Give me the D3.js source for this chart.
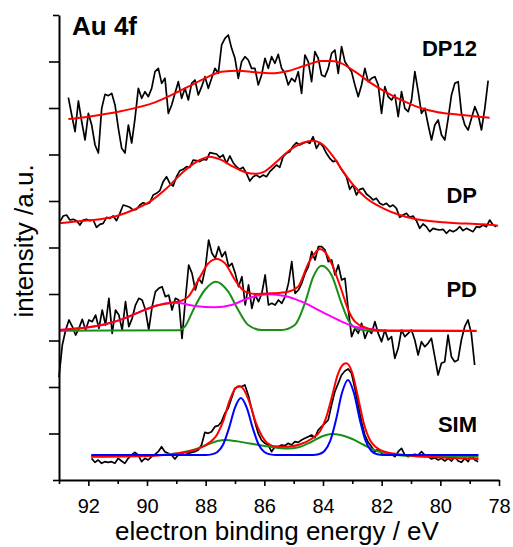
<!DOCTYPE html>
<html>
<head>
<meta charset="utf-8">
<script src="https://cdn.jsdelivr.net/npm/d3@7"></script>
<style>
  body { margin: 0; background: #fff; }
  svg { display: block; font-family: "Liberation Sans", Arial, sans-serif; }
</style>
</head>
<body>
<div id="chart"></div>
<script>
// measured spectra: first/last binding energy (eV), points evenly spaced between them
const dp12Range = [92.68, 78.37];
const dp12 = [82.22,78.49,74.91,81.51,77.06,73.12,78.85,76.34,72.04,70.32,
  79.93,82.94,82.65,83.15,80.65,75.63,71.33,70.32,76.34,72.47,
  77.78,84.23,82.08,83.51,82.44,84.23,87.81,88.53,85.30,86.38,
  78.85,80.65,83.15,85.66,82.08,84.23,81.72,85.30,86.02,82.80,
  84.59,86.74,84.23,86.38,88.53,87.46,93.55,94.98,95.70,92.83,
  90.68,86.38,89.96,91.04,90.32,88.53,88.53,84.95,87.10,90.68,
  88.53,91.04,89.61,91.54,88.53,87.46,84.95,86.38,85.66,87.81,
  83.15,91.40,89.96,85.66,92.11,90.68,87.10,86.74,88.53,91.76,
  92.47,87.46,93.19,89.96,88.89,87.81,84.95,82.44,84.95,88.53,
  85.66,86.38,86.74,84.95,78.85,84.59,82.44,81.72,82.80,78.14,
  83.51,79.93,79.21,81.72,87.81,83.51,78.85,79.93,76.34,73.12,
  76.34,77.42,74.19,73.12,77.78,82.80,85.30,85.66,78.85,76.34,
  75.27,77.78,80.29,78.49,75.27,79.93,85.88];

const dpRange = [92.97, 78.09];
const dp = [55.56,56.77,56.99,55.91,56.06,55.77,54.84,55.91,56.06,55.77,
  55.91,54.34,54.98,55.20,56.49,56.27,56.77,55.77,57.35,59.14,
  58.92,58.64,58.06,58.21,59.14,59.64,59.36,59.64,61.29,61.65,
  62.22,64.16,65.23,63.80,63.23,65.23,66.52,66.81,67.38,67.24,
  68.82,68.67,68.46,68.96,68.82,70.39,70.25,70.11,69.39,69.89,
  68.10,69.68,68.24,67.38,66.81,67.24,65.95,64.30,65.23,65.59,
  65.09,65.59,65.23,66.31,67.03,67.74,67.24,69.53,70.25,70.61,
  71.83,72.54,72.04,72.40,72.76,72.40,73.84,71.33,72.54,71.68,
  70.25,69.18,68.46,68.67,67.38,66.31,65.23,62.51,63.44,61.29,
  62.51,62.72,61.51,60.93,60.22,60.57,59.50,59.14,59.50,58.78,
  59.14,58.42,56.49,56.99,57.35,56.49,56.77,55.77,54.12,55.05,
  54.48,53.41,54.12,53.91,53.76,53.91,53.05,53.76,53.41,53.76,
  54.48,53.62,54.12,53.76,53.41,54.48,54.34,54.84,54.48,55.91,
  54.84,54.48];

const pdRange = [93.0, 78.83];
const pd = [22.15,29.03,32.26,34.41,32.97,31.18,32.62,34.55,32.26,34.41,
  34.05,35.48,32.62,36.56,33.33,39.07,31.54,36.56,35.48,32.26,
  38.35,32.97,34.77,37.63,39.07,38.71,36.56,32.26,37.28,40.50,
  41.22,41.58,39.43,39.78,36.56,39.07,38.71,30.47,38.71,46.24,
  44.44,40.86,43.37,42.29,45.52,51.61,48.75,47.67,50.18,48.03,
  49.10,45.88,46.59,44.44,41.58,43.73,37.63,41.94,36.92,39.78,
  38.35,40.14,44.09,37.63,37.99,37.63,38.71,37.99,39.43,42.29,
  46.95,40.14,40.86,42.29,44.44,45.88,49.10,47.31,50.18,50.18,
  49.46,46.95,47.31,44.09,46.24,43.01,43.37,36.56,30.82,32.62,
  31.54,33.69,30.47,32.26,31.54,34.05,31.54,29.75,32.26,30.11,
  30.82,26.16,28.32,32.26,30.82,31.54,32.26,30.11,26.88,29.75,
  28.67,29.39,30.47,26.52,22.58,25.09,25.45,31.18,26.52,25.45,
  25.81,30.11,32.97,34.41,31.54,24.73];

const simRange = [91.89, 78.71];
const sim = [4.66,3.80,4.30,3.58,3.94,3.80,3.94,3.58,4.66,4.09,
  3.58,4.66,5.38,5.95,5.38,3.94,4.66,4.30,5.02,5.52,
  6.09,7.17,6.09,5.73,5.38,4.52,5.38,5.73,5.38,5.73,
  5.95,6.09,6.45,7.53,10.25,10.04,10.39,11.47,11.68,12.54,
  14.34,15.41,17.56,19.71,20.07,20.07,20.43,18.28,15.41,12.54,
  10.04,8.60,7.89,7.53,6.09,7.17,7.17,7.53,7.38,7.89,
  7.53,8.24,8.10,8.60,8.96,9.32,9.68,9.10,10.75,11.47,
  12.19,12.90,16.13,19.00,20.79,22.58,23.44,23.87,22.94,19.71,
  16.13,12.54,9.68,8.10,7.17,6.09,6.67,5.73,6.09,5.38,
  5.52,5.02,6.09,6.81,5.38,5.02,5.38,5.52,5.38,6.09,
  5.38,5.02,4.52,4.80,4.30,4.66,4.09,4.66,4.09,5.02,
  4.09,3.80,4.66,3.94,5.38,4.30,3.94];

// fitted envelopes and components, sampled by eye
const dp12FitE = [92.68,92.0,90.86,89.73,88.59,88.03,87.46,86.89,86.32,85.75,85.19,84.62,84.05,83.71,83.37,82.91,82.35,81.78,81.21,80.64,80.08,79.51,78.94,78.32];
const dp12Fit  = [77.63,78.14,79.35,81.22,84.59,86.38,87.81,88.03,87.67,87.46,87.96,89.10,90.11,90.11,89.61,87.81,85.30,83.15,81.36,79.93,79.07,78.64,78.28,77.92];

const dpFitE = [92.99,92.17,91.60,91.03,90.47,89.90,89.33,88.76,88.20,87.86,87.51,87.06,86.61,86.3,86.04,85.58,85.13,84.68,84.34,83.99,83.65,83.31,82.97,82.52,81.95,81.38,80.81,79.68,78.54,78.03];
const dpFit  = [55.20,55.77,56.06,56.77,58.06,59.86,62.72,66.31,68.82,69.53,68.96,67.38,66.09,65.85,66.2,68.46,70.97,72.54,72.97,72.04,69.53,66.31,63.44,60.57,58.42,56.99,56.06,55.34,54.98,54.70];

const pdFitE = [92.97,92.0,91.43,90.86,90.30,89.73,89.16,88.82,88.59,88.25,87.91,87.63,87.34,87.0,86.66,86.32,85.75,85.19,84.85,84.50,84.28,84.11,83.94,83.71,83.37,83.14,82.91,82.57,82.23,81.78,78.77];
const pdFit  = [32.26,32.83,33.48,34.55,35.99,37.42,38.14,38.57,39.43,43.01,46.59,47.53,46.59,43.01,40.50,40.0,40.14,40.50,41.58,46.59,48.75,49.68,49.10,46.59,40.86,36.56,34.05,32.83,32.26,32.11,32.04];
const pdMetalE = [92.97,88.9,88.71,88.37,88.03,87.65,87.23,86.89,86.55,86.09,85.41,84.96,84.62,84.33,84.05,83.71,83.37,83.14,82.80,82.35,78.77];
const pdMetal  = [32.11,32.2,32.97,37.28,40.86,42.65,40.50,36.56,33.33,32.26,32.26,33.33,37.99,43.73,46.09,44.09,37.99,34.41,32.40,32.11,32.11];
const pdBroadE = [92.97,92.0,91.43,90.86,90.30,89.73,89.16,88.82,88.37,87.68,87.12,86.55,85.87,85.30,84.73,84.05,83.48,82.91,82.35,81.78,78.77];
const pdBroad  = [32.26,32.83,33.48,34.55,35.99,37.42,38.14,37.99,37.42,37.13,37.63,39.07,39.93,39.57,38.35,36.20,34.41,32.97,32.40,32.11,32.04];

const simFitE = [91.9,90.0,89.0,88.6,88.0,87.6,87.4,87.2,87.0,86.85,86.7,86.5,86.3,86.1,85.9,85.6,85.2,84.8,84.4,84.1,83.9,83.7,83.5,83.3,83.2,83.0,82.8,82.6,82.4,82.2,81.9,81.2,80.0,78.7];
const simFit  = [5.01,5.16,5.70,6.09,7.53,9.89,12.7,16.8,19.6,20.2,19.4,16.6,12.5,9.68,7.96,7.20,7.16,7.63,8.82,10.5,13.3,17.8,22.6,24.9,25.1,23.0,17.6,12.0,8.60,7.10,6.09,5.38,4.84,4.52];
const simMetalE = [91.9,88.0,87.8,87.6,87.4,87.2,87.0,86.8,86.6,86.4,86.2,86.0,85.8,85.6,84.6,84.35,84.15,83.95,83.75,83.55,83.35,83.15,82.95,82.75,82.55,82.35,82.15,81.95,78.7];
const simMetal  = [5.38,5.38,5.51,6.02,7.70,11.27,15.57,17.63,15.57,11.27,7.70,6.02,5.51,5.38,5.38,5.40,5.54,6.24,8.45,13.12,18.80,21.51,18.80,13.12,8.45,6.24,5.54,5.38,5.38];
const simBroadE = [91.9,90.5,89.5,89.0,88.5,88.0,87.6,87.3,87.0,86.5,86.0,85.5,85.2,84.8,84.4,84.0,83.7,83.4,83.0,82.6,82.2,81.8,81.2,80.0,78.7];
const simBroad  = [5.10,5.16,5.38,5.70,6.34,7.42,8.39,8.60,8.39,7.85,7.31,6.88,6.77,7.10,8.17,9.46,9.89,9.68,8.82,7.53,6.34,5.70,5.23,5.05,4.99];

const sampleNames = ['DP12', 'DP', 'PD', 'SIM'];
const xTicks = d3.range(93, 77, -1);
const yTicks = d3.range(0, 101, 10);

const width = 513, height = 547;

const svg = d3.select('#chart')
  .append('svg')
  .attr('width', width)
  .attr('height', height);

const x = d3.scaleLinear().domain([93, 78]).range([59, 499]);
const y = d3.scaleLinear().domain([0, 100]).range([480, 15]);

// energies of an evenly spaced scan
function scan(range, n) {
  return d3.range(n).map(i => range[0] + (range[1] - range[0]) * i / (n - 1));
}
function pairs(es, vs) {
  return es.map((e, i) => [e, vs[i]]);
}

const rawLine = d3.line().x(d => x(d[0])).y(d => y(d[1]));
const fitLine = d3.line().x(d => x(d[0])).y(d => y(d[1])).curve(d3.curveMonotoneX);

function drawRaw(vals, range) {
  svg.append('path')
    .datum(pairs(scan(range, vals.length), vals))
    .attr('fill', 'none')
    .attr('stroke', '#000')
    .attr('stroke-width', 1.7)
    .attr('stroke-linejoin', 'round')
    .attr('d', rawLine);
}
function drawFit(es, vs, color) {
  svg.append('path')
    .datum(pairs(es, vs))
    .attr('fill', 'none')
    .attr('stroke', color)
    .attr('stroke-width', 2)
    .attr('d', fitLine);
}

// DP12
drawRaw(dp12, dp12Range);
drawFit(dp12FitE, dp12Fit, '#ff0000');
// DP
drawRaw(dp, dpRange);
drawFit(dpFitE, dpFit, '#ff0000');
// PD
drawRaw(pd, pdRange);
drawFit(pdMetalE, pdMetal, '#178f17');
drawFit(pdBroadE, pdBroad, '#ff00ff');
drawFit(pdFitE, pdFit, '#ff0000');
// SIM
drawRaw(sim, simRange);
drawFit(simBroadE, simBroad, '#178f17');
drawFit(simFitE, simFit, '#ff0000');
drawFit(simMetalE, simMetal, '#0000ff');

// axes
const xAxis = d3.axisBottom(x)
  .tickValues(xTicks)
  .tickSize(6)
  .tickSizeOuter(0)
  .tickPadding(13)
  .tickFormat(d => d % 2 === 0 ? d : '');
const yAxis = d3.axisLeft(y)
  .tickValues(yTicks)
  .tickSize(10)
  .tickSizeOuter(0)
  .tickFormat('');

const xAxisG = svg.append('g')
  .attr('transform', 'translate(0,480)')
  .call(xAxis);
const yAxisG = svg.append('g')
  .attr('transform', 'translate(59,0)')
  .call(yAxis);

xAxisG.selectAll('.tick line')
  .attr('stroke-width', 1.6)
  .attr('y2', d => d % 2 === 0 ? 6 : 4);
xAxisG.selectAll('.tick text')
  .attr('font-size', 20)
  .attr('font-family', '"Liberation Sans", Arial, sans-serif')
  .attr('fill', '#000');
yAxisG.selectAll('.tick line')
  .attr('stroke-width', 1.6)
  .attr('x2', d => (d === 100 || d === 0) ? -6 : -10);
svg.selectAll('.domain').attr('stroke-width', 2).attr('stroke', '#000');

// titles
svg.append('text')
  .attr('x', 277)
  .attr('y', 540)
  .attr('text-anchor', 'middle')
  .attr('font-size', 26)
  .text('electron binding energy / eV');

svg.append('text')
  .attr('transform', 'translate(33,241) rotate(-90)')
  .attr('text-anchor', 'middle')
  .attr('font-size', 26)
  .text('intensity /a.u.');

svg.append('text')
  .attr('x', 72)
  .attr('y', 35)
  .attr('font-size', 26)
  .attr('font-weight', 'bold')
  .text('Au 4f');

// spectrum labels
const labelY = [56, 202.5, 297, 431.5];
svg.selectAll('.name')
  .data(sampleNames)
  .enter()
  .append('text')
  .attr('class', 'name')
  .attr('x', 477)
  .attr('y', (d, i) => labelY[i])
  .attr('text-anchor', 'end')
  .attr('font-size', 22)
  .attr('font-weight', 'bold')
  .text(d => d);
</script>
</body>
</html>
